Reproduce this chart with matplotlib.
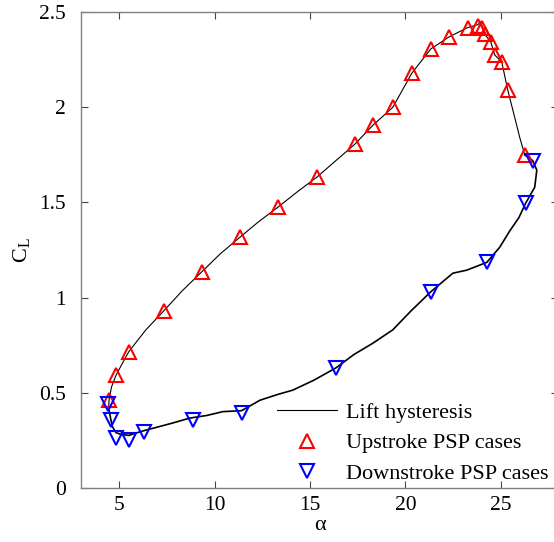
import numpy as np
import matplotlib.pyplot as plt

# --------------------------------------------------------------------------------------------
# DATA
# loop: upstroke then downstroke
upAlpha = [4.45, 4.47, 4.6, 4.83, 5.2, 5.51, 6.4, 7.35, 8.3, 9.34, 10.3, 11.33, 12.3, 13.32,
           14.3, 15.36, 16.3, 17.35, 18.3, 19.34, 20.34, 21.33, 22.28, 23.27, 23.8, 23.95,
           24.16, 24.48, 24.69, 25.05, 25.37, 25.7, 26.0, 26.26]
upCL = [0.42, 0.461, 0.53, 0.59, 0.66, 0.716, 0.83, 0.931, 1.035, 1.136, 1.23, 1.317, 1.398, 1.475,
        1.553, 1.633, 1.715, 1.806, 1.906, 2.0, 2.18, 2.307, 2.37, 2.42, 2.435, 2.45,
        2.385, 2.343, 2.275, 2.24, 2.09, 1.96, 1.84, 1.75]

downAlpha = [26.26, 26.68, 26.89, 26.78, 26.31, 25.95, 25.47, 24.95, 24.27, 23.22, 22.49, 21.33,
             20.3, 19.34, 18.3, 17.3, 16.36, 15.2, 14.1, 13.3, 12.38, 11.42, 10.44, 9.6, 8.7,
             7.8, 6.98, 6.3, 5.8, 5.51, 5.1, 4.83, 4.65, 4.57, 4.45]
downCL = [1.75, 1.72, 1.67, 1.58, 1.497, 1.42, 1.35, 1.265, 1.185, 1.144, 1.128, 1.03,
          0.93, 0.83, 0.76, 0.7, 0.63, 0.565, 0.513, 0.49, 0.46, 0.405, 0.40, 0.38, 0.366,
          0.34, 0.318, 0.30, 0.285, 0.275, 0.28, 0.29, 0.32, 0.355, 0.42]

# PSP case points
upPSPAlpha = [4.47, 4.83, 5.51, 7.35, 9.34, 11.33, 13.32, 15.36, 17.35, 18.3, 19.34, 20.34,
              21.33, 22.28, 23.27, 23.8, 24.0, 24.16, 24.48, 24.69, 25.05, 25.37, 26.26]
upPSPCL = [0.461, 0.59, 0.716, 0.931, 1.136, 1.317, 1.475, 1.633, 1.806, 1.906, 2.0, 2.18,
           2.307, 2.37, 2.42, 2.43, 2.42, 2.385, 2.343, 2.275, 2.24, 2.09, 1.75]

downPSPAlpha = [4.41, 4.57, 4.83, 5.51, 6.3, 8.87, 11.43, 16.36, 21.33, 24.27, 26.31, 26.68]
downPSPCL = [0.44, 0.355, 0.262, 0.25, 0.293, 0.356, 0.393, 0.63, 1.03, 1.185, 1.497, 1.72]

xTicks = [5, 10, 15, 20, 25]
yTicks = [0, 0.5, 1, 1.5, 2, 2.5]
yTickLabels = ['0', '0.5', '1', '1.5', '2', '2.5']

# --------------------------------------------------------------------------------------------
# PLOT
plt.rcParams['font.family'] = ['Liberation Serif', 'DejaVu Serif']
plt.rcParams['mathtext.fontset'] = 'custom'
plt.rcParams['mathtext.rm'] = 'Liberation Serif'

fig = plt.figure(figsize=(5.54, 5.42), dpi=100)
ax = fig.add_axes([0.1462, 0.1002, 0.861, 0.8771])

ax.plot(upAlpha, upCL, color='black', lw=0.8, label='Lift hysteresis')
ax.plot(downAlpha, downCL, color='black', lw=1.2)
ax.plot(upPSPAlpha, upPSPCL, ls='none', marker='^', ms=10, mfc='none', mec='red', mew=1.5,
        label='Upstroke PSP cases')
ax.plot(downPSPAlpha, downPSPCL, ls='none', marker='v', ms=10, mfc='none', mec='blue', mew=1.5,
        label='Downstroke PSP cases')

ax.set_xlim(3, 28)
ax.set_ylim(0, 2.5)
ax.set_xticks(xTicks)
ax.set_yticks(yTicks)
ax.set_yticklabels(yTickLabels)
ax.tick_params(direction='in', top=True, right=True, length=5, width=0.8, color='#444444',
               labelsize=15.5)
ax.tick_params(axis='x', pad=6)
ax.tick_params(axis='y', pad=11)
for spine in ax.spines.values():
    spine.set_color('#808080')
    spine.set_linewidth(1.0)

ax.set_xlabel('α', fontsize=16, labelpad=1)
ax.set_ylabel(r'C$_\mathrm{L}$', fontsize=16, labelpad=4)

ax.legend(loc='lower right', frameon=False, fontsize=16, handlelength=2.7, handletextpad=0.4,
          bbox_to_anchor=(1.008, -0.02), borderaxespad=0.2, labelspacing=0.45)

fig.savefig('out.png', dpi=100)
